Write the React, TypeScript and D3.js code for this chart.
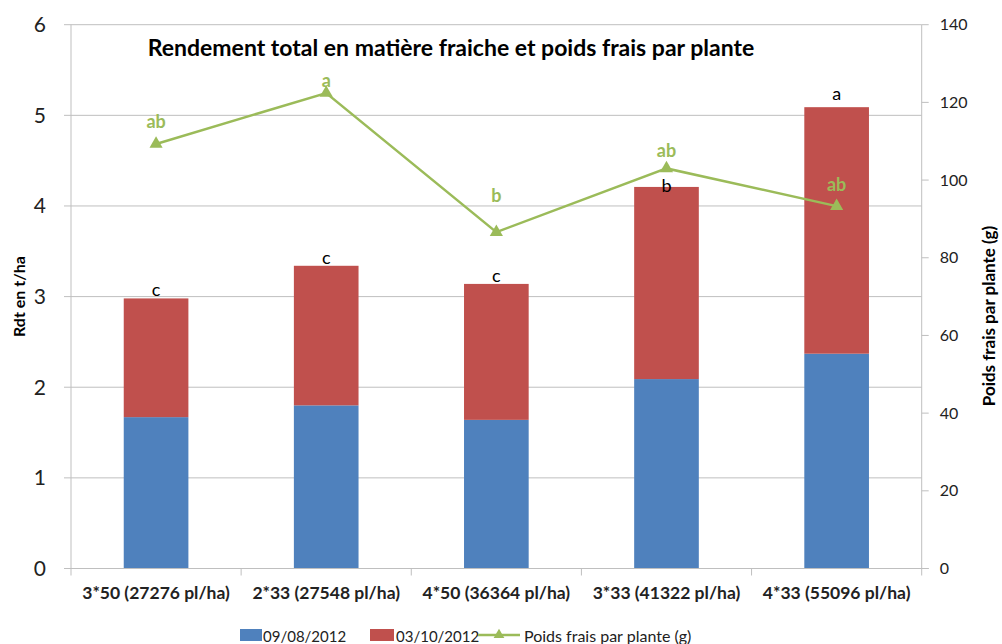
import React from "react";
import * as d3 from "d3";

const categories = ["3*50 (27276 pl/ha)", "2*33 (27548 pl/ha)", "4*50 (36364 pl/ha)", "3*33 (41322 pl/ha)", "4*33 (55096 pl/ha)"];
const harvest1 = [1.67, 1.8, 1.64, 2.09, 2.37];
const harvest2 = [1.31, 1.54, 1.5, 2.12, 2.72];
const poids = [109.3, 122.4, 86.6, 103.0, 93.3];
const barLetters = ["c", "c", "c", "b", "a"];
const lineLetters = ["ab", "a", "b", "ab", "ab"];
const leftTicks = [0, 1, 2, 3, 4, 5, 6];
const rightTicks = [0, 20, 40, 60, 80, 100, 120, 140];

const W = 1002, H = 644;
const L = 71, R = 921.7, T = 24.7, B = 568.5;
const FONT = "Lato, 'Open Sans', sans-serif";
const BLUE = "#4f81bd", RED = "#c0504d", GREEN = "#9bbb59", GRID = "#bfbfbf";

export default function App() {
  const x = d3.scaleBand().domain(categories).range([L, R]).paddingInner(0).paddingOuter(0);
  const y = d3.scaleLinear().domain([0, 6]).range([B, T]);
  const y2 = d3.scaleLinear().domain([0, 140]).range([B, T]);
  const bw = x.bandwidth() * 0.38;
  const cx = (c: string) => (x(c) as number) + x.bandwidth() / 2;
  const line = d3.line<number>().x((_, i) => cx(categories[i])).y((d) => y2(d));
  const tri = d3.symbol().type(d3.symbolTriangle).size(75)();
  const lineLabelOffset = [-16, -6, -30, -11, -15];
  const barLabelOffset = [-2, -2, -2, 5, -7];

  return (
    <svg width={W} height={H} style={{ position: "absolute", left: 0, top: 0, background: "#fff" }} fontFamily={FONT}>
      {leftTicks.slice(1).map((t) => (
        <line key={"g" + t} x1={L} x2={R} y1={y(t)} y2={y(t)} stroke={GRID} strokeWidth={1} />
      ))}
      {categories.map((c, i) => (
        <g key={c}>
          <rect x={cx(c) - bw / 2} width={bw} y={y(harvest1[i])} height={y(0) - y(harvest1[i])} fill={BLUE} />
          <rect x={cx(c) - bw / 2} width={bw} y={y(harvest1[i] + harvest2[i])} height={y(harvest1[i]) - y(harvest1[i] + harvest2[i])} fill={RED} />
          <text x={cx(c)} y={y(harvest1[i] + harvest2[i]) + barLabelOffset[i]} textAnchor="middle" fontSize={18} fill="#000">{barLetters[i]}</text>
        </g>
      ))}
      {/* axes */}
      <line x1={L} x2={L} y1={T} y2={B} stroke={GRID} />
      <line x1={R} x2={R} y1={T} y2={B} stroke={GRID} />
      <line x1={L - 7} x2={R + 7} y1={B} y2={B} stroke={GRID} />
      {leftTicks.map((t) => (
        <g key={"l" + t}>
          <line x1={L - 7} x2={L} y1={y(t)} y2={y(t)} stroke={GRID} />
          <text x={L - 25} y={y(t)} dy="0.35em" textAnchor="end" fontSize={21} fill="#222">{t}</text>
        </g>
      ))}
      {rightTicks.map((t) => (
        <g key={"r" + t}>
          <line x1={R} x2={R + 7} y1={y2(t)} y2={y2(t)} stroke={GRID} />
          <text x={R + 18} y={y2(t)} dy="0.35em" textAnchor="start" fontSize={16} fill="#222">{t}</text>
        </g>
      ))}
      {d3.range(categories.length + 1).map((i) => (
        <line key={"xt" + i} x1={L + i * x.bandwidth()} x2={L + i * x.bandwidth()} y1={B} y2={B + 7} stroke={GRID} />
      ))}
      {categories.map((c) => (
        <text key={"xl" + c} x={cx(c)} y={599} textAnchor="middle" fontSize={17.5} fontWeight="bold" fill="#222">{c}</text>
      ))}
      {/* line series */}
      <path d={line(poids) || ""} fill="none" stroke={GREEN} strokeWidth={2.5} />
      {poids.map((p, i) => (
        <g key={"p" + i}>
          <path d={tri} transform={`translate(${cx(categories[i])},${y2(p)})`} fill={GREEN} />
          <text x={cx(categories[i])} y={y2(p) + lineLabelOffset[i]} textAnchor="middle" fontSize={18} fontWeight="bold" fill={GREEN}>{lineLetters[i]}</text>
        </g>
      ))}
      {/* title */}
      <text x={451} y={56} textAnchor="middle" fontSize={23} fontWeight="bold" fill="#000">Rendement total en matière fraiche et poids frais par plante</text>
      {/* axis titles */}
      <text transform={`translate(25,${(T + B) / 2}) rotate(-90)`} textAnchor="middle" fontSize={16} fontWeight="bold" fill="#000">Rdt en t/ha</text>
      <text transform={`translate(995,316) rotate(-90)`} textAnchor="middle" fontSize={17} fontWeight="bold" fill="#000">Poids frais par plante (g)</text>
      {/* legend */}
      <rect x={240} y={629} width={22} height={12} fill={BLUE} />
      <text x={263} y={642} fontSize={15} fill="#222">09/08/2012</text>
      <rect x={370} y={629} width={24} height={12} fill={RED} />
      <text x={396} y={642} fontSize={15} fill="#222">03/10/2012</text>
      <line x1={478} x2={520} y1={635} y2={635} stroke={GREEN} strokeWidth={2.5} />
      <path d={d3.symbol().type(d3.symbolTriangle).size(50)() || ""} transform="translate(499,635)" fill={GREEN} />
      <text x={524} y={642} fontSize={16} fill="#222">Poids frais par plante (g)</text>
    </svg>
  );
}
